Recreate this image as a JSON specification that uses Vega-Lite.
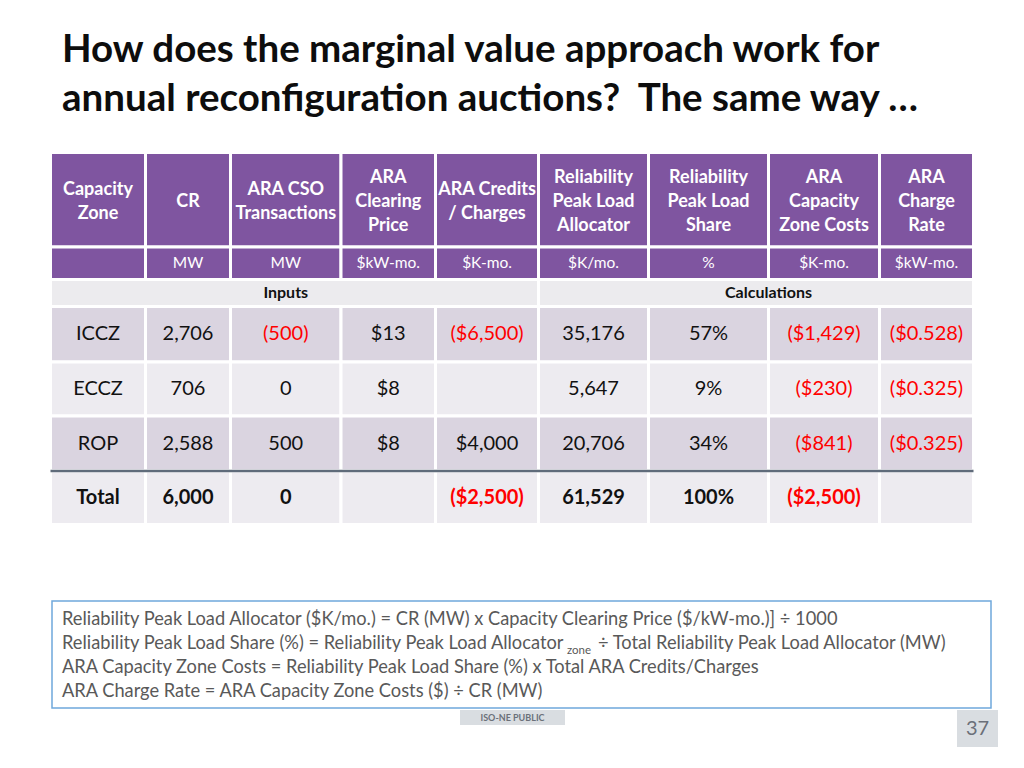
{
  "$schema": "https://vega.github.io/schema/vega-lite/v6.json",
  "width": 1024,
  "height": 768,
  "padding": 0,
  "autosize": {"type": "none"},
  "background": "#FFFFFF",
  "config": {"view": {"stroke": null}, "text": {"font": "Lato"}},
  "resolve": {"scale": {"x": "independent", "y": "independent", "color": "independent", "fill": "independent"}},
  "layer": [
    {
      "data": {"values": [
        {"k":"hdr","n":2,"r0":0,"r1":1,"c0":0,"c1":1,"cx":0.5,"cy":0.5,"t":"Capacity\nZone","tone":"w"},
        {"k":"hdr","n":1,"r0":0,"r1":1,"c0":1,"c1":2,"cx":1.5,"cy":0.5,"t":"CR","tone":"w"},
        {"k":"hdr","n":2,"r0":0,"r1":1,"c0":2,"c1":3,"cx":2.5,"cy":0.5,"t":"ARA CSO\nTransactions","tone":"w"},
        {"k":"hdr","n":3,"r0":0,"r1":1,"c0":3,"c1":4,"cx":3.5,"cy":0.5,"t":"ARA\nClearing\nPrice","tone":"w"},
        {"k":"hdr","n":2,"r0":0,"r1":1,"c0":4,"c1":5,"cx":4.5,"cy":0.5,"t":"ARA Credits\n/ Charges","tone":"w"},
        {"k":"hdr","n":3,"r0":0,"r1":1,"c0":5,"c1":6,"cx":5.5,"cy":0.5,"t":"Reliability\nPeak Load\nAllocator","tone":"w"},
        {"k":"hdr","n":3,"r0":0,"r1":1,"c0":6,"c1":7,"cx":6.5,"cy":0.5,"t":"Reliability\nPeak Load\nShare","tone":"w"},
        {"k":"hdr","n":3,"r0":0,"r1":1,"c0":7,"c1":8,"cx":7.5,"cy":0.5,"t":"ARA\nCapacity\nZone Costs","tone":"w"},
        {"k":"hdr","n":3,"r0":0,"r1":1,"c0":8,"c1":9,"cx":8.5,"cy":0.5,"t":"ARA\nCharge\nRate","tone":"w"},
        {"k":"unit","r0":1,"r1":2,"c0":0,"c1":1,"cx":0.5,"cy":1.5,"t":"","tone":"w"},
        {"k":"unit","r0":1,"r1":2,"c0":1,"c1":2,"cx":1.5,"cy":1.5,"t":"MW","tone":"w"},
        {"k":"unit","r0":1,"r1":2,"c0":2,"c1":3,"cx":2.5,"cy":1.5,"t":"MW","tone":"w"},
        {"k":"unit","r0":1,"r1":2,"c0":3,"c1":4,"cx":3.5,"cy":1.5,"t":"$kW-mo.","tone":"w"},
        {"k":"unit","r0":1,"r1":2,"c0":4,"c1":5,"cx":4.5,"cy":1.5,"t":"$K-mo.","tone":"w"},
        {"k":"unit","r0":1,"r1":2,"c0":5,"c1":6,"cx":5.5,"cy":1.5,"t":"$K/mo.","tone":"w"},
        {"k":"unit","r0":1,"r1":2,"c0":6,"c1":7,"cx":6.5,"cy":1.5,"t":"%","tone":"w"},
        {"k":"unit","r0":1,"r1":2,"c0":7,"c1":8,"cx":7.5,"cy":1.5,"t":"$K-mo.","tone":"w"},
        {"k":"unit","r0":1,"r1":2,"c0":8,"c1":9,"cx":8.5,"cy":1.5,"t":"$kW-mo.","tone":"w"},
        {"k":"sec","r0":2,"r1":3,"c0":0,"c1":5,"cx":2.5,"cy":2.5,"t":"Inputs","tone":"k"},
        {"k":"sec","r0":2,"r1":3,"c0":5,"c1":9,"cx":7,"cy":2.5,"t":"Calculations","tone":"k"},
        {"k":"dark","r0":3,"r1":4,"c0":0,"c1":1,"cx":0.5,"cy":3.5,"t":"ICCZ","tone":"k"},
        {"k":"dark","r0":3,"r1":4,"c0":1,"c1":2,"cx":1.5,"cy":3.5,"t":"2,706","tone":"k"},
        {"k":"dark","r0":3,"r1":4,"c0":2,"c1":3,"cx":2.5,"cy":3.5,"t":"(500)","tone":"r"},
        {"k":"dark","r0":3,"r1":4,"c0":3,"c1":4,"cx":3.5,"cy":3.5,"t":"$13","tone":"k"},
        {"k":"dark","r0":3,"r1":4,"c0":4,"c1":5,"cx":4.5,"cy":3.5,"t":"($6,500)","tone":"r"},
        {"k":"dark","r0":3,"r1":4,"c0":5,"c1":6,"cx":5.5,"cy":3.5,"t":"35,176","tone":"k"},
        {"k":"dark","r0":3,"r1":4,"c0":6,"c1":7,"cx":6.5,"cy":3.5,"t":"57%","tone":"k"},
        {"k":"dark","r0":3,"r1":4,"c0":7,"c1":8,"cx":7.5,"cy":3.5,"t":"($1,429)","tone":"r"},
        {"k":"dark","r0":3,"r1":4,"c0":8,"c1":9,"cx":8.5,"cy":3.5,"t":"($0.528)","tone":"r"},
        {"k":"light","r0":4,"r1":5,"c0":0,"c1":1,"cx":0.5,"cy":4.5,"t":"ECCZ","tone":"k"},
        {"k":"light","r0":4,"r1":5,"c0":1,"c1":2,"cx":1.5,"cy":4.5,"t":"706","tone":"k"},
        {"k":"light","r0":4,"r1":5,"c0":2,"c1":3,"cx":2.5,"cy":4.5,"t":"0","tone":"k"},
        {"k":"light","r0":4,"r1":5,"c0":3,"c1":4,"cx":3.5,"cy":4.5,"t":"$8","tone":"k"},
        {"k":"light","r0":4,"r1":5,"c0":4,"c1":5,"cx":4.5,"cy":4.5,"t":"","tone":"k"},
        {"k":"light","r0":4,"r1":5,"c0":5,"c1":6,"cx":5.5,"cy":4.5,"t":"5,647","tone":"k"},
        {"k":"light","r0":4,"r1":5,"c0":6,"c1":7,"cx":6.5,"cy":4.5,"t":"9%","tone":"k"},
        {"k":"light","r0":4,"r1":5,"c0":7,"c1":8,"cx":7.5,"cy":4.5,"t":"($230)","tone":"r"},
        {"k":"light","r0":4,"r1":5,"c0":8,"c1":9,"cx":8.5,"cy":4.5,"t":"($0.325)","tone":"r"},
        {"k":"dark","r0":5,"r1":6,"c0":0,"c1":1,"cx":0.5,"cy":5.5,"t":"ROP","tone":"k"},
        {"k":"dark","r0":5,"r1":6,"c0":1,"c1":2,"cx":1.5,"cy":5.5,"t":"2,588","tone":"k"},
        {"k":"dark","r0":5,"r1":6,"c0":2,"c1":3,"cx":2.5,"cy":5.5,"t":"500","tone":"k"},
        {"k":"dark","r0":5,"r1":6,"c0":3,"c1":4,"cx":3.5,"cy":5.5,"t":"$8","tone":"k"},
        {"k":"dark","r0":5,"r1":6,"c0":4,"c1":5,"cx":4.5,"cy":5.5,"t":"$4,000","tone":"k"},
        {"k":"dark","r0":5,"r1":6,"c0":5,"c1":6,"cx":5.5,"cy":5.5,"t":"20,706","tone":"k"},
        {"k":"dark","r0":5,"r1":6,"c0":6,"c1":7,"cx":6.5,"cy":5.5,"t":"34%","tone":"k"},
        {"k":"dark","r0":5,"r1":6,"c0":7,"c1":8,"cx":7.5,"cy":5.5,"t":"($841)","tone":"r"},
        {"k":"dark","r0":5,"r1":6,"c0":8,"c1":9,"cx":8.5,"cy":5.5,"t":"($0.325)","tone":"r"},
        {"k":"total","r0":6,"r1":7,"c0":0,"c1":1,"cx":0.5,"cy":6.5,"t":"Total","tone":"k"},
        {"k":"total","r0":6,"r1":7,"c0":1,"c1":2,"cx":1.5,"cy":6.5,"t":"6,000","tone":"k"},
        {"k":"total","r0":6,"r1":7,"c0":2,"c1":3,"cx":2.5,"cy":6.5,"t":"0","tone":"k"},
        {"k":"total","r0":6,"r1":7,"c0":3,"c1":4,"cx":3.5,"cy":6.5,"t":"","tone":"k"},
        {"k":"total","r0":6,"r1":7,"c0":4,"c1":5,"cx":4.5,"cy":6.5,"t":"($2,500)","tone":"r"},
        {"k":"total","r0":6,"r1":7,"c0":5,"c1":6,"cx":5.5,"cy":6.5,"t":"61,529","tone":"k"},
        {"k":"total","r0":6,"r1":7,"c0":6,"c1":7,"cx":6.5,"cy":6.5,"t":"100%","tone":"k"},
        {"k":"total","r0":6,"r1":7,"c0":7,"c1":8,"cx":7.5,"cy":6.5,"t":"($2,500)","tone":"r"},
        {"k":"total","r0":6,"r1":7,"c0":8,"c1":9,"cx":8.5,"cy":6.5,"t":"","tone":"k"}
      ]},
      "encoding": {
        "x": {"field": "cx", "type": "quantitative", "axis": null,
              "scale": {"domain": [0,1,2,3,4,5,6,7,8,9], "range": [50.5,145.5,230.5,341,435.5,538.5,648.5,768.5,879.5,973.5], "nice": false, "zero": false}},
        "y": {"field": "cy", "type": "quantitative", "axis": null,
              "scale": {"domain": [0,1,2,3,4,5,6,7], "range": [152.5,247,279.5,306.5,362,416,471,524.5], "nice": false, "zero": false}},
        "color": {"field": "tone", "type": "nominal", "legend": null, "scale": {"domain": ["k","r","w"], "range": ["#111111","#FF0000","#FFFFFF"]}}
      },
      "layer": [
        {
          "mark": {"type": "rect", "stroke": "#FFFFFF", "strokeWidth": 3},
          "encoding": {
            "x": {"field": "c0", "type": "quantitative", "axis": null,
                  "scale": {"domain": [0,1,2,3,4,5,6,7,8,9], "range": [50.5,145.5,230.5,341,435.5,538.5,648.5,768.5,879.5,973.5], "nice": false, "zero": false}},
            "x2": {"field": "c1"},
            "y": {"field": "r0", "type": "quantitative", "axis": null,
                  "scale": {"domain": [0,1,2,3,4,5,6,7], "range": [152.5,247,279.5,306.5,362,416,471,524.5], "nice": false, "zero": false}},
            "y2": {"field": "r1"},
            "color": null,
            "fill": {"field": "k", "type": "nominal", "legend": null,
                     "scale": {"domain": ["hdr","unit","sec","dark","light","total"], "range": ["#7F55A0","#7F55A0","#ECEBEE","#DAD4E0","#EDEBF0","#EDEBF0"]}}
          }
        },
        {
          "transform": [{"filter": "datum.k == 'hdr' && datum.n == 1"}],
          "mark": {"type": "text", "font": "Lato", "fontWeight": "bold", "fontSize": 18, "lineHeight": 24, "lineBreak": "\n", "align": "center", "baseline": "middle", "dy": 2},
          "encoding": {"text": {"field": "t"}}
        },
        {
          "transform": [{"filter": "datum.k == 'hdr' && datum.n == 2"}],
          "mark": {"type": "text", "font": "Lato", "fontWeight": "bold", "fontSize": 18, "lineHeight": 24, "lineBreak": "\n", "align": "center", "baseline": "middle", "dy": -10},
          "encoding": {"text": {"field": "t"}}
        },
        {
          "transform": [{"filter": "datum.k == 'hdr' && datum.n == 3"}],
          "mark": {"type": "text", "font": "Lato", "fontWeight": "bold", "fontSize": 18, "lineHeight": 24, "lineBreak": "\n", "align": "center", "baseline": "middle", "dy": -22},
          "encoding": {"text": {"field": "t"}}
        },
        {
          "transform": [{"filter": {"field": "k", "equal": "unit"}}],
          "mark": {"type": "text", "font": "Lato", "fontSize": 15.5, "align": "center", "baseline": "middle"},
          "encoding": {"text": {"field": "t"}}
        },
        {
          "transform": [{"filter": {"field": "k", "equal": "sec"}}],
          "mark": {"type": "text", "font": "Lato", "fontWeight": "bold", "fontSize": 16, "align": "center", "baseline": "middle"},
          "encoding": {"text": {"field": "t"}}
        },
        {
          "transform": [{"filter": {"field": "k", "oneOf": ["dark","light"]}}],
          "mark": {"type": "text", "font": "Lato", "fontSize": 20, "align": "center", "baseline": "middle"},
          "encoding": {"text": {"field": "t"}}
        },
        {
          "transform": [{"filter": {"field": "k", "equal": "total"}}],
          "mark": {"type": "text", "font": "Lato", "fontWeight": "bold", "fontSize": 20, "align": "center", "baseline": "middle"},
          "encoding": {"text": {"field": "t"}}
        },
        {
          "data": {"values": [{"c0": 0, "c1": 9, "r0": 6}]},
          "mark": {"type": "rule", "stroke": "#5F6B7A", "strokeWidth": 2.5},
          "encoding": {
            "x": {"field": "c0", "type": "quantitative", "axis": null,
                  "scale": {"domain": [0,1,2,3,4,5,6,7,8,9], "range": [50.5,145.5,230.5,341,435.5,538.5,648.5,768.5,879.5,973.5], "nice": false, "zero": false}},
            "x2": {"field": "c1"},
            "y": {"field": "r0", "type": "quantitative", "axis": null,
                  "scale": {"domain": [0,1,2,3,4,5,6,7], "range": [152.5,247,279.5,306.5,362,416,471,524.5], "nice": false, "zero": false}},
            "color": null
          }
        }
      ]
    },
    {
      "encoding": {
        "x": {"field": "x0", "type": "quantitative", "axis": null,
              "scale": {"domain": [0,1,2,3,4,5,6,7,8,9,10,11], "range": [52,62,460,512.5,565,567,598,957,977.5,991,998,1024], "nice": false, "zero": false}},
        "y": {"field": "y0", "type": "quantitative", "axis": null,
              "scale": {"domain": [0,1,2,3,4,5,6,7,8,9,10,11,12], "range": [62,111,601,620,644,668,692,708,710,717.5,725,728.5,747], "nice": false, "zero": false}}
      },
      "layer": [
        {
          "data": {"values": [
            {"x0": 1, "y0": 0, "t": "How does the marginal value approach work for"},
            {"x0": 1, "y0": 1, "t": "annual reconfiguration auctions?\u00a0\u00a0The same way …"}
          ]},
          "mark": {"type": "text", "font": "Lato", "fontWeight": "bold", "fontSize": 38.5, "align": "left", "baseline": "alphabetic", "color": "#0D0D0D"},
          "encoding": {"text": {"field": "t"}}
        },
        {
          "data": {"values": [{"x0": 0, "x1": 9, "y0": 2, "y1": 7}]},
          "mark": {"type": "rect", "fill": "#FFFFFF", "stroke": "#6FA8DC", "strokeWidth": 1.5},
          "encoding": {"x2": {"field": "x1"}, "y2": {"field": "y1"}}
        },
        {
          "data": {"values": [
            {"x0": 1, "y0": 3, "t": "Reliability Peak Load Allocator ($K/mo.) = CR (MW) x Capacity Clearing Price ($/kW-mo.)] ÷ 1000"},
            {"x0": 1, "y0": 4, "t": "Reliability Peak Load Share (%) = Reliability Peak Load Allocator"},
            {"x0": 6, "y0": 4, "t": "÷ Total Reliability Peak Load Allocator (MW)"},
            {"x0": 1, "y0": 5, "t": "ARA Capacity Zone Costs = Reliability Peak Load Share (%) x Total ARA Credits/Charges"},
            {"x0": 1, "y0": 6, "t": "ARA Charge Rate = ARA Capacity Zone Costs ($) ÷ CR (MW)"}
          ]},
          "mark": {"type": "text", "font": "Lato", "fontSize": 18.25, "align": "left", "baseline": "middle", "color": "#595959"},
          "encoding": {"text": {"field": "t"}}
        },
        {
          "data": {"values": [{"x0": 5, "y0": 4, "t": "zone"}]},
          "mark": {"type": "text", "font": "Lato", "fontSize": 11.5, "align": "left", "baseline": "middle", "dy": 7, "color": "#595959"},
          "encoding": {"text": {"field": "t"}}
        },
        {
          "data": {"values": [{"x0": 2, "x1": 4, "y0": 8, "y1": 10}, {"x0": 7, "x1": 10, "y0": 8, "y1": 12}]},
          "mark": {"type": "rect", "fill": "#D9DDE1"},
          "encoding": {"x2": {"field": "x1"}, "y2": {"field": "y1"}}
        },
        {
          "data": {"values": [{"x0": 3, "y0": 9, "t": "ISO-NE PUBLIC"}]},
          "mark": {"type": "text", "font": "Lato", "fontWeight": "bold", "fontSize": 9, "align": "center", "baseline": "middle", "color": "#6B7079"},
          "encoding": {"text": {"field": "t"}}
        },
        {
          "data": {"values": [{"x0": 8, "y0": 11, "t": "37"}]},
          "mark": {"type": "text", "font": "Lato", "fontSize": 20, "align": "center", "baseline": "middle", "color": "#6B7079"},
          "encoding": {"text": {"field": "t"}}
        }
      ]
    }
  ]
}
